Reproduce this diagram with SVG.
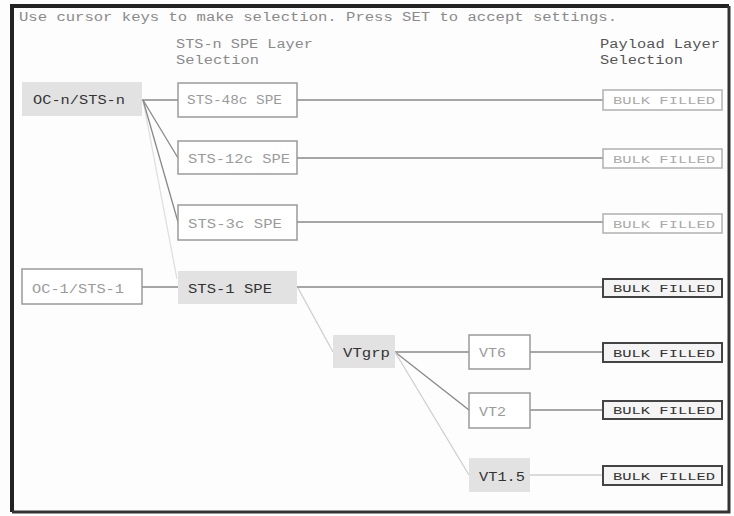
<svg xmlns="http://www.w3.org/2000/svg" width="734" height="516" viewBox="0 0 734 516">
<style>
text{font-family:"Liberation Mono","DejaVu Sans Mono",monospace;font-size:12px;}
.hdr{fill:#8a8a8a;}
.lbl{fill:#8a8a8a;}
.sel rect{fill:#e2e2e2;stroke:none;}
.sel text{fill:#333;}
.opt rect{fill:#fff;stroke:#9a9a9a;stroke-width:1.5;}
.opt text{fill:#9a9a9a;}
.bk rect{fill:#fff;stroke:#b0b0b0;stroke-width:1.5;}
.bk text{fill:#aaa;font-size:11px;}
.bkon rect{fill:#f4f4f4;stroke:#444;stroke-width:2;}
.bkon text{fill:#333;font-size:11px;}
.c{fill:none;stroke-width:1.3;}
.m{stroke:#888;}
.l{stroke:#cfcfcf;}
.vl{stroke:#e0e0e0;}
</style>
<rect x="0" y="0" width="734" height="516" fill="#fdfdfd"/>
<path d="M12 512 V6 H729" fill="none" stroke="#222" stroke-width="4"/>
<path d="M12 512 H729 V6" fill="none" stroke="#333" stroke-width="3"/>
<text class="hdr" x="19" y="21" textLength="598" lengthAdjust="spacingAndGlyphs">Use cursor keys to make selection. Press SET to accept settings.</text>
<text class="lbl" x="176" y="48" textLength="137" lengthAdjust="spacingAndGlyphs">STS-n SPE Layer</text>
<text class="lbl" x="176" y="64" textLength="83" lengthAdjust="spacingAndGlyphs">Selection</text>
<text class="lbl" x="600" y="48" textLength="120" lengthAdjust="spacingAndGlyphs" fill="#555" style="fill:#555">Payload Layer</text>
<text class="lbl" x="600" y="64" textLength="83" lengthAdjust="spacingAndGlyphs" style="fill:#555">Selection</text>
<g id="connectors">
<line class="c vl" x1="143" y1="100" x2="177" y2="279"/>
<line class="c m" x1="142" y1="100" x2="178" y2="100"/>
<line class="c m" x1="143" y1="100" x2="178" y2="158"/>
<line class="c m" x1="143" y1="100" x2="178" y2="222"/>
<line class="c m" x1="297" y1="100" x2="603" y2="100"/>
<line class="c m" x1="297" y1="158" x2="603" y2="158"/>
<line class="c m" x1="297" y1="222" x2="603" y2="222"/>
<line class="c m" x1="142" y1="287" x2="178" y2="287"/>
<line class="c m" x1="297" y1="287" x2="603" y2="287"/>
<line class="c l" x1="298" y1="288" x2="333" y2="352"/>
<line class="c m" x1="395" y1="352" x2="469" y2="352"/>
<line class="c m" x1="395" y1="352" x2="469" y2="410"/>
<line class="c l" x1="395" y1="352" x2="469" y2="475"/>
<line class="c m" x1="530" y1="352" x2="603" y2="352"/>
<line class="c m" x1="530" y1="410" x2="603" y2="410"/>
<line class="c l" x1="530" y1="475" x2="603" y2="475"/>
</g>
<g id="ocn" class="sel"><rect x="22" y="82" width="120" height="34"/><text x="33" y="104" textLength="92" lengthAdjust="spacingAndGlyphs">OC-n/STS-n</text></g>
<g id="sts48" class="opt"><rect x="178" y="83" width="119" height="34"/><text x="187" y="104" textLength="95" lengthAdjust="spacingAndGlyphs">STS-48c SPE</text></g>
<g id="sts12" class="opt"><rect x="178" y="141" width="119" height="33"/><text x="188" y="163" textLength="102" lengthAdjust="spacingAndGlyphs">STS-12c SPE</text></g>
<g id="sts3" class="opt"><rect x="178" y="205" width="119" height="35"/><text x="188" y="228" textLength="94" lengthAdjust="spacingAndGlyphs">STS-3c SPE</text></g>
<g id="oc1" class="opt"><rect x="22" y="269" width="120" height="35"/><text x="32" y="293" textLength="92" lengthAdjust="spacingAndGlyphs">OC-1/STS-1</text></g>
<g id="sts1" class="sel"><rect x="178" y="271" width="119" height="33"/><text x="188" y="293" textLength="84" lengthAdjust="spacingAndGlyphs">STS-1 SPE</text></g>
<g id="vtgrp" class="sel"><rect x="333" y="335" width="62" height="33"/><text x="343" y="357" textLength="47" lengthAdjust="spacingAndGlyphs">VTgrp</text></g>
<g id="vt6" class="opt"><rect x="469" y="335" width="61" height="34"/><text x="479" y="357" textLength="27" lengthAdjust="spacingAndGlyphs">VT6</text></g>
<g id="vt2" class="opt"><rect x="469" y="393" width="61" height="35"/><text x="479" y="416" textLength="27" lengthAdjust="spacingAndGlyphs">VT2</text></g>
<g id="vt15" class="sel"><rect x="469" y="458" width="61" height="34"/><text x="479" y="481" textLength="46" lengthAdjust="spacingAndGlyphs">VT1.5</text></g>
<g id="bulk1" class="bk"><rect x="603" y="90" width="119" height="20"/><text x="613" y="104" textLength="102" lengthAdjust="spacingAndGlyphs">BULK FILLED</text></g>
<g id="bulk2" class="bk"><rect x="603" y="149" width="119" height="19"/><text x="613" y="163" textLength="102" lengthAdjust="spacingAndGlyphs">BULK FILLED</text></g>
<g id="bulk3" class="bk"><rect x="603" y="214" width="119" height="19"/><text x="613" y="228" textLength="102" lengthAdjust="spacingAndGlyphs">BULK FILLED</text></g>
<g id="bulk4" class="bkon"><rect x="603" y="279" width="119" height="18"/><text x="613" y="292" textLength="102" lengthAdjust="spacingAndGlyphs">BULK FILLED</text></g>
<g id="bulk5" class="bkon"><rect x="603" y="343" width="119" height="19"/><text x="613" y="357" textLength="102" lengthAdjust="spacingAndGlyphs">BULK FILLED</text></g>
<g id="bulk6" class="bkon"><rect x="603" y="401" width="119" height="18"/><text x="613" y="414" textLength="102" lengthAdjust="spacingAndGlyphs">BULK FILLED</text></g>
<g id="bulk7" class="bkon"><rect x="603" y="466" width="119" height="19"/><text x="613" y="480" textLength="102" lengthAdjust="spacingAndGlyphs">BULK FILLED</text></g>
</svg>
